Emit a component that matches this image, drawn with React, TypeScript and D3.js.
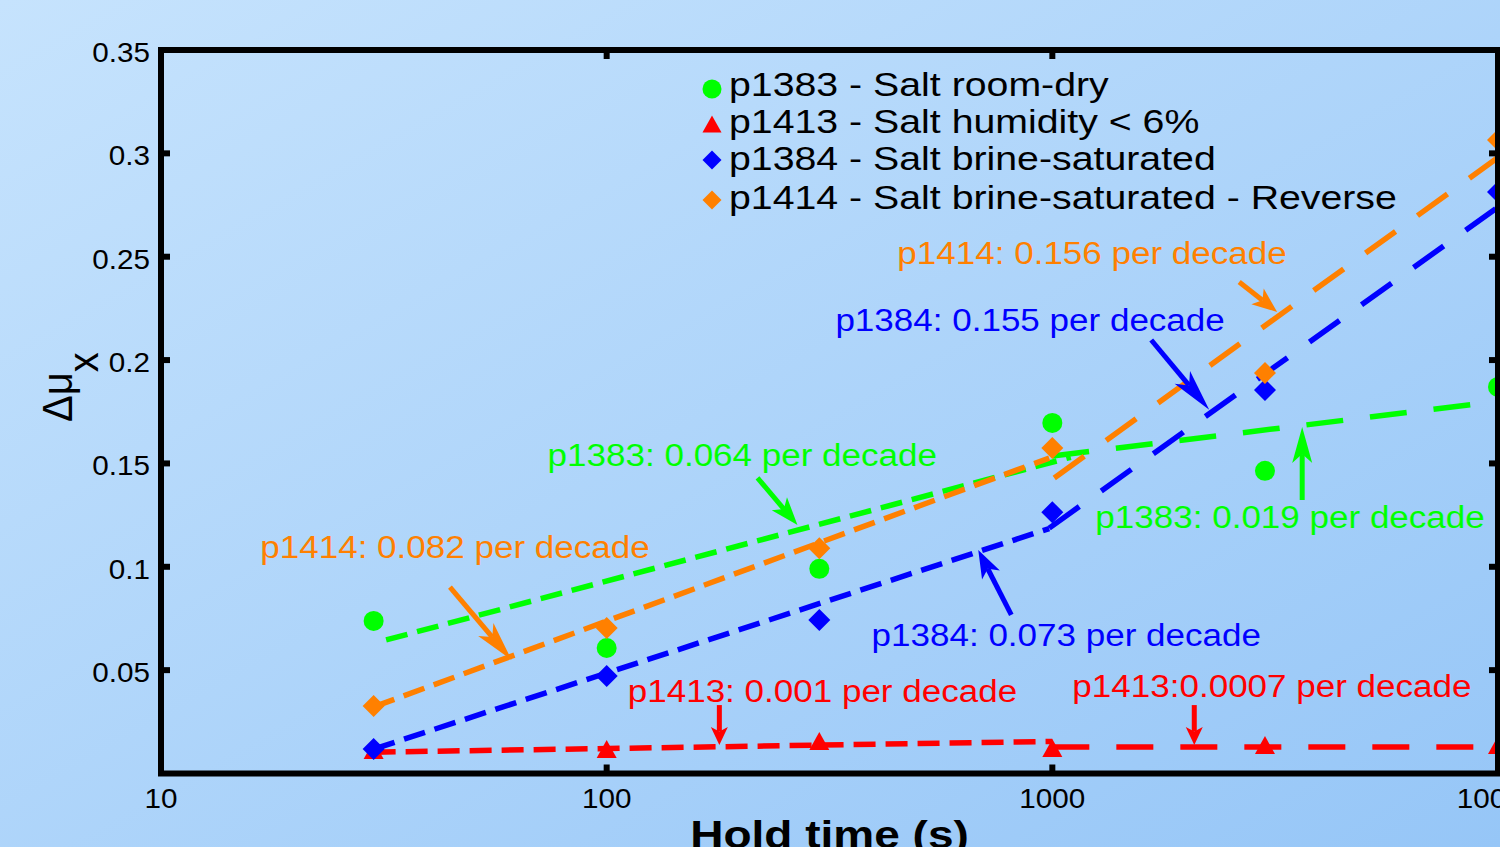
import React from "react";
import * as d3 from "d3";

const W = 1500;
const H = 847;

// measured points (hold time in s, delta mu)
const holdTimes = [30, 100, 300, 1000, 3000, 10000];
const p1383 = [0.0738, 0.0607, 0.099, 0.1696, 0.1464, 0.187];
const p1413 = [0.0114, 0.0118, 0.0157, 0.0123, 0.0138, 0.0138];
const p1384 = [0.0118, 0.0472, 0.0743, 0.1264, 0.1855, 0.2813];
const p1414 = [0.0327, 0.0704, 0.109, 0.1575, 0.1938, 0.3065];

// fitted segments, [time, value] end points
const fit1383a = [[32, 0.0646], [1100, 0.153]];
const fit1383b = [[1000, 0.1536], [10000, 0.18]];
const fit1413a = [[30, 0.0103], [1000, 0.0155]];
const fit1413b = [[1000, 0.0128], [10000, 0.0128]];
const fit1384a = [[30, 0.0118], [984, 0.1185]];
const fit1384b = [[984, 0.1187], [10000, 0.274]];
const fit1414a = [[30, 0.0322], [984, 0.1526]];
const fit1414b = [[1010, 0.143], [10000, 0.298]];

const xTicks = [10, 100, 1000, 10000];
const yTicks = [0.05, 0.1, 0.15, 0.2, 0.25, 0.3, 0.35];

const legendLabels = [
  "p1383 - Salt room-dry",
  "p1413 - Salt humidity < 6%",
  "p1384 - Salt brine-saturated",
  "p1414 - Salt brine-saturated - Reverse",
];

// slope annotations
const annLabels = [
  "p1414: 0.156 per decade",
  "p1384: 0.155 per decade",
  "p1383: 0.064 per decade",
  "p1414: 0.082 per decade",
  "p1383: 0.019 per decade",
  "p1384: 0.073 per decade",
  "p1413: 0.001 per decade",
  "p1413:0.0007 per decade",
];
const annSeries = [3, 2, 0, 3, 0, 2, 1, 1];
const annTextAt = [
  [449, 0.2465], [326, 0.2141], [73.7, 0.1488], [16.7, 0.1043],
  [1249, 0.1188], [393, 0.0617], [111.5, 0.0346], [1109, 0.037],
];
const arrowFrom = [
  [2626, 0.2378], [1667, 0.2097], [218, 0.143], [44.5, 0.0902],
  [3636, 0.1323], [809, 0.0767], [179, 0.0331], [2082, 0.0331],
];
const arrowTo = [
  [3195, 0.2233], [2249, 0.176], [268, 0.1202], [61.2, 0.0549],
  [3636, 0.1676], [682, 0.1081], [179, 0.0138], [2082, 0.0138],
];
const arrowHeadLen = [25, 42, 28, 40, 36, 28, 18, 18];

const colors = ["#00ff00", "#ff0000", "#0000ff", "#ff8000"];
const FONT = "'Liberation Sans', Arial, Helvetica, sans-serif";

const x = d3.scaleLog().domain([10, 10000]).range([161, 1498]);
const y = d3.scaleLinear().domain([0, 0.35]).range([773.5, 50]);

function markerPath(kind: string, s: number) {
  if (kind === "circle") return d3.symbol(d3.symbolCircle, Math.PI * s * s)()!;
  if (kind === "tri") {
    const h = s * 0.9;
    return `M0,${-h} L${s},${h} L${-s},${h} Z`;
  }
  return `M0,${-s} L${s},0 L0,${s} L${-s},0 Z`;
}

function Txt({ x, y, sx, size, anchor = "start", fill = "#000", weight = "normal", children }: any) {
  return (
    <text
      transform={`translate(${x},${y}) scale(${sx},1)`}
      fontFamily={FONT}
      fontSize={size}
      fontWeight={weight}
      textAnchor={anchor}
      fill={fill}
    >
      {children}
    </text>
  );
}

function Arrow({ from, to, len, color }: any) {
  const x0 = x(from[0]), y0 = y(from[1]);
  const x1 = x(to[0]), y1 = y(to[1]);
  const d = Math.hypot(x1 - x0, y1 - y0);
  const ux = (x1 - x0) / d, uy = (y1 - y0) / d;
  const nx = -uy, ny = ux;
  const hw = len > 20 ? 10 : 8.5;
  const bx = x1 - ux * len, by = y1 - uy * len;
  const notch = len * 0.75;
  const mx = x1 - ux * notch, my = y1 - uy * notch;
  const pts = [
    [x1, y1],
    [bx + nx * hw, by + ny * hw],
    [mx, my],
    [bx - nx * hw, by - ny * hw],
  ];
  return (
    <g>
      <line x1={x0} y1={y0} x2={mx} y2={my} stroke={color} strokeWidth={5} />
      <polygon points={pts.map((p) => p.join(",")).join(" ")} fill={color} />
    </g>
  );
}

export default function App() {
  const line = d3.line<number[]>().x((d) => x(d[0])).y((d) => y(d[1]));
  const series = [
    { vals: p1383, kind: "circle", size: 10, fits: [fit1383a, fit1383b] },
    { vals: p1413, kind: "tri", size: 10, fits: [fit1413a, fit1413b] },
    { vals: p1384, kind: "diamond", size: 11, fits: [fit1384a, fit1384b] },
    { vals: p1414, kind: "diamond", size: 11, fits: [fit1414a, fit1414b] },
  ];
  const legendKinds = ["circle", "tri", "diamond", "diamond"];
  const legendMarkY = [89, 124, 160, 200];
  const legendBase = [96, 133, 170, 209];
  const [xl, xr] = x.range();
  const [yb, yt] = y.range();

  return (
    <svg
      width={W}
      height={H}
      style={{ position: "absolute", left: 0, top: 0, display: "block" }}
    >
      <defs>
        <linearGradient id="bg" x1="0" y1="0" x2="1" y2="1">
          <stop offset="0" stopColor="#c6e3fd" />
          <stop offset="1" stopColor="#96c6f7" />
        </linearGradient>
        <clipPath id="plotclip">
          <rect x={xl} y={yt - 20} width={W - xl} height={yb - yt + 20} />
        </clipPath>
      </defs>
      <rect width={W} height={H} fill="url(#bg)" />

      {/* data + fits */}
      <g>
        {series.map((s, si) => (
          <g key={si}>
            {s.vals.map((v, i) => (
              <path
                key={i}
                transform={`translate(${x(holdTimes[i])},${y(v)})`}
                d={markerPath(s.kind, s.size)}
                fill={colors[si]}
              />
            ))}
            <path d={line(s.fits[0] as any)!} stroke={colors[si]} strokeWidth={5.5} fill="none" strokeDasharray="22 10" />
            <path d={line(s.fits[1] as any)!} stroke={colors[si]} strokeWidth={5.5} fill="none" strokeDasharray="37 27" />
          </g>
        ))}
      </g>

      {/* box + ticks */}
      <rect x={xl} y={yt} width={xr - xl} height={yb - yt} fill="none" stroke="#000" strokeWidth={6} />
      {xTicks.map((t) => (
        <g key={t}>
          <line x1={x(t)} x2={x(t)} y1={yb} y2={yb - 9} stroke="#000" strokeWidth={6} />
          <line x1={x(t)} x2={x(t)} y1={yt} y2={yt + 9} stroke="#000" strokeWidth={6} />
          <Txt x={x(t)} y={808} sx={1.06} size={28} anchor="middle">{String(t)}</Txt>
        </g>
      ))}
      {yTicks.map((t) => (
        <g key={t}>
          <line x1={xl} x2={xl + 9} y1={y(t)} y2={y(t)} stroke="#000" strokeWidth={6} />
          <line x1={xr} x2={xr - 9} y1={y(t)} y2={y(t)} stroke="#000" strokeWidth={6} />
          <Txt x={150} y={y(t) + 12} sx={1.06} size={28} anchor="end">{String(t)}</Txt>
        </g>
      ))}

      {/* axis labels */}
      <Txt x={(xl + xr) / 2} y={848} sx={1.18} size={39} anchor="middle" weight="bold">Hold time (s)</Txt>
      <text transform="translate(72,422) scale(1.08,1) rotate(-90)" fontFamily={FONT} fontSize={40}>
        Δμ<tspan dy={24}>x</tspan>
      </text>

      {/* legend */}
      {legendLabels.map((l, i) => (
        <g key={l}>
          <path transform={`translate(712,${legendMarkY[i]})`} d={markerPath(legendKinds[i], 9.5)} fill={colors[i]} />
          <Txt x={729} y={legendBase[i]} sx={1.19} size={33}>{l}</Txt>
        </g>
      ))}

      {/* slope annotations */}
      {annLabels.map((l, i) => (
        <g key={i}>
          <Txt x={x(annTextAt[i][0])} y={y(annTextAt[i][1])} sx={1.13} size={31} fill={colors[annSeries[i]]}>{l}</Txt>
          <Arrow from={arrowFrom[i]} to={arrowTo[i]} len={arrowHeadLen[i]} color={colors[annSeries[i]]} />
        </g>
      ))}
    </svg>
  );
}
